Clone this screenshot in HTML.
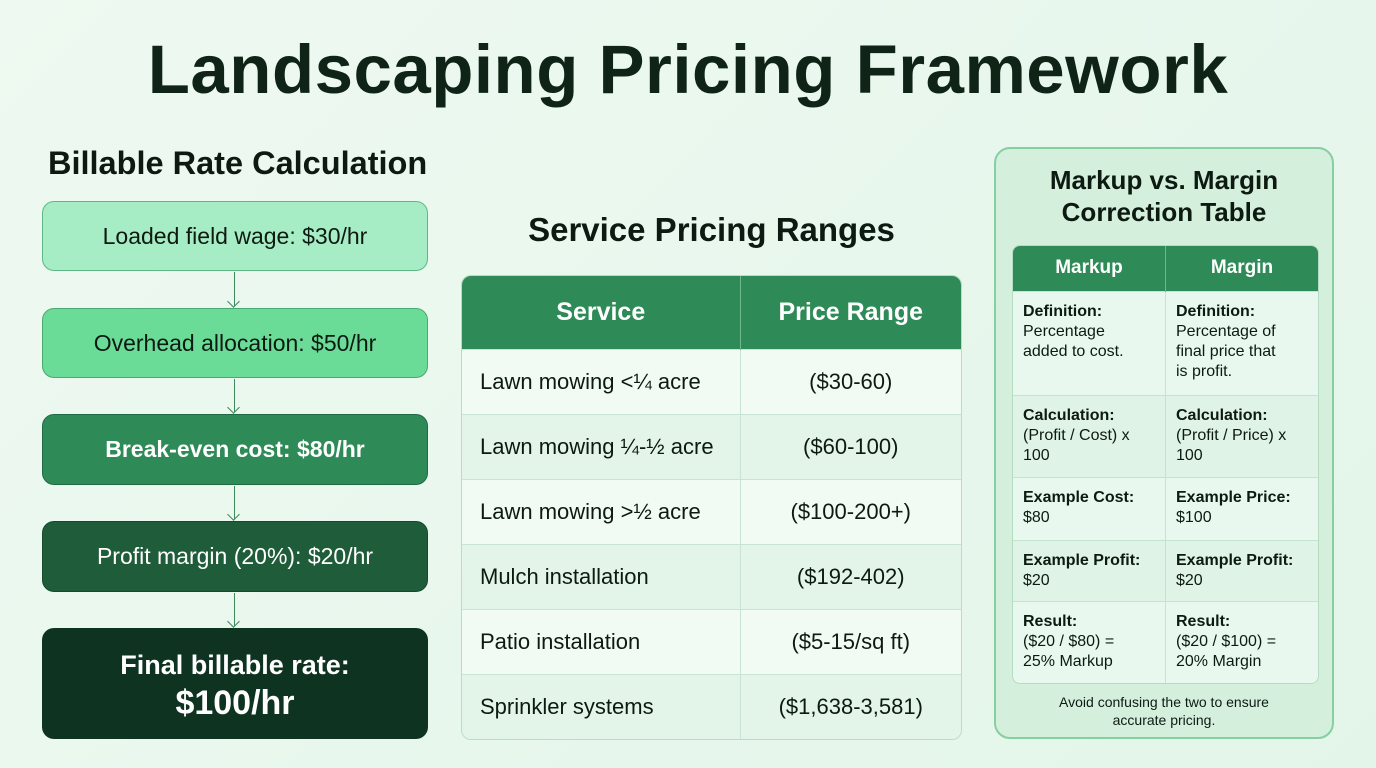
<!DOCTYPE html>
<html><head><meta charset="utf-8"><style>
*{margin:0;padding:0;box-sizing:border-box}
body{width:1376px;height:768px;overflow:hidden;background:linear-gradient(135deg,#eef9f1,#e3f5e9);font-family:"Liberation Sans",sans-serif;color:#0d1a12;position:relative}
.abs{position:absolute}
h1{position:absolute;left:0;width:1376px;top:30px;text-align:center;font-size:69px;font-weight:bold;color:#0f2417;letter-spacing:0.5px}
.lh{left:48px;top:145px;font-size:32.5px;font-weight:bold}
.box{position:absolute;left:42px;width:386px;border-radius:12px;display:flex;align-items:center;justify-content:center;text-align:center;font-size:23px}
.arr{position:absolute;left:234px;width:1px;background:#3d8a5c}
.arr:after{content:"";position:absolute;left:-5px;bottom:0;width:8px;height:8px;border-right:1.5px solid #3d8a5c;border-bottom:1.5px solid #3d8a5c;transform:rotate(45deg);transform-origin:center}
.mh{left:461px;width:501px;top:211px;text-align:center;font-size:33px;font-weight:bold}
table{border-collapse:collapse}
.t1{position:absolute;left:461px;top:275px;width:501px;border-radius:10px;overflow:hidden;border:1px solid #b9dcc5}
.t1 th{background:#2e8b57;color:#fff;font-size:25px;height:73px;font-weight:bold}
.t1 td{height:65px;font-size:22px;border-top:1px solid #c9e4d2}
.t1 td:first-child{padding-left:18px;width:278px;border-right:1px solid #c9e4d2}
.t1 td:last-child{text-align:center}
.t1 tr:nth-child(odd) td{background:#e2f5e8}
.t1 tr:nth-child(even) td{background:#f1fbf4}
.panel{position:absolute;left:994px;top:147px;width:340px;height:592px;border-radius:16px;border:2px solid #86cfa2;background:#d5efdd}
.pt{position:absolute;left:0;width:100%;top:15px;text-align:center;font-size:26px;font-weight:bold;line-height:32px}
.t2{position:absolute;left:16px;top:96px;width:307px;border-radius:8px;overflow:hidden;border:1px solid #b5dbc2}
.t2 th{background:#2e8b57;color:#fff;font-size:19px;height:45px;width:50%}
.t2 th:first-child{border-right:1px solid #6fb88b}
.t2 td{vertical-align:top;padding:10px 10px 0 10px;font-size:16px;line-height:20px;border-top:1px solid #c5e3cf;background:#dff3e6}
.t2 td:first-child{border-right:1px solid #c5e3cf}
.t2 tr:nth-child(even) td{background:#e9f8ee}
.foot{position:absolute;left:0;width:100%;top:544px;text-align:center;font-size:14px;line-height:18px}
</style></head><body>
<h1>Landscaping Pricing Framework</h1>
<div class="abs lh">Billable Rate Calculation</div>
<div class="box" style="top:201px;height:70px;background:#a6ecc5;border:1.5px solid #5fb884">Loaded field wage: $30/hr</div>
<div class="arr" style="top:272px;height:34px"></div>
<div class="box" style="top:308px;height:70px;background:#6bdb98;border:1.5px solid #4aa872">Overhead allocation: $50/hr</div>
<div class="arr" style="top:379px;height:33px"></div>
<div class="box" style="top:414px;height:71px;background:#2e8b57;border:1.5px solid #1f6a40;color:#fff;font-weight:bold">Break-even cost: $80/hr</div>
<div class="arr" style="top:486px;height:33px"></div>
<div class="box" style="top:521px;height:71px;background:#1f5c39;border:1.5px solid #154a2c;color:#fff">Profit margin (20%): $20/hr</div>
<div class="arr" style="top:593px;height:33px"></div>
<div class="box" style="top:628px;height:111px;background:#0e3321;color:#fff;font-weight:bold;font-size:27px;line-height:38px;flex-direction:column"><div>Final billable rate:</div><div style="font-size:34px">$100/hr</div></div>

<div class="abs mh">Service Pricing Ranges</div>
<div class="t1"><table style="width:100%">
<tr><th style="border-right:1px solid #6fb88b">Service</th><th>Price Range</th></tr>
<tr><td>Lawn mowing &lt;¼ acre</td><td>($30-60)</td></tr>
<tr><td>Lawn mowing ¼-½ acre</td><td>($60-100)</td></tr>
<tr><td>Lawn mowing &gt;½ acre</td><td>($100-200+)</td></tr>
<tr><td>Mulch installation</td><td>($192-402)</td></tr>
<tr><td>Patio installation</td><td>($5-15/sq ft)</td></tr>
<tr><td>Sprinkler systems</td><td>($1,638-3,581)</td></tr>
</table></div>

<div class="panel">
<div class="pt">Markup vs. Margin<br>Correction Table</div>
<div class="t2"><table style="width:100%">
<tr><th>Markup</th><th>Margin</th></tr>
<tr style="height:104px"><td><b>Definition:</b><br>Percentage<br>added to cost.</td><td><b>Definition:</b><br>Percentage of<br>final price that<br>is profit.</td></tr>
<tr style="height:82px"><td><b>Calculation:</b><br>(Profit / Cost) x<br>100</td><td><b>Calculation:</b><br>(Profit / Price) x<br>100</td></tr>
<tr style="height:63px"><td><b>Example Cost:</b><br>$80</td><td><b>Example Price:</b><br>$100</td></tr>
<tr style="height:61px"><td><b>Example Profit:</b><br>$20</td><td><b>Example Profit:</b><br>$20</td></tr>
<tr style="height:82px"><td><b>Result:</b><br>($20 / $80) =<br>25% Markup</td><td><b>Result:</b><br>($20 / $100) =<br>20% Margin</td></tr>
</table></div>
<div class="foot">Avoid confusing the two to ensure<br>accurate pricing.</div>
</div>
</body></html>
